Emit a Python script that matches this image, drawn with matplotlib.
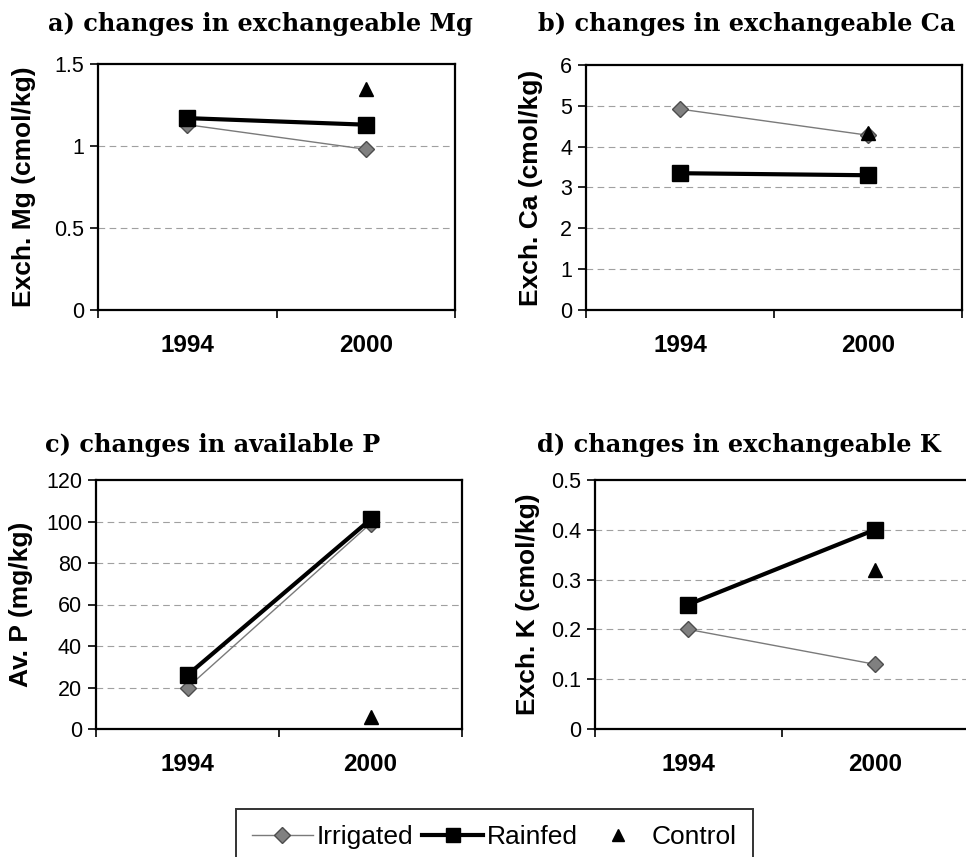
import matplotlib
matplotlib.use("Agg")
import matplotlib.pyplot as plt
from matplotlib.lines import Line2D
import numpy as np

# soil nutrient data, 1994 vs 2000
years = ["1994", "2000"]

mg_irrigated = [1.13, 0.98]
mg_rainfed = [1.17, 1.13]
mg_control = 1.35

ca_irrigated = [4.92, 4.28]
ca_rainfed = [3.35, 3.30]
ca_control = 4.33

p_irrigated = [20, 99]
p_rainfed = [26, 101]
p_control = 6

k_irrigated = [0.20, 0.13]
k_rainfed = [0.25, 0.40]
k_control = 0.32

W, H = 966, 857
fig = plt.figure(figsize=(W / 100, H / 100), dpi=100)

sans = "Liberation Sans"
serif = "DejaVu Serif"


def px_axes(left, top, right, bottom):
    return fig.add_axes([left / W, 1 - bottom / H, (right - left) / W, (bottom - top) / H])


panels = [
    # box (px), title, title pos, ylabel, ylabel x, data, ylim, yticks, ticklabels
    ((98, 64, 455, 310), "a) changes in exchangeable Mg", (48, 31),
     "Exch. Mg (cmol/kg)", 24, mg_irrigated, mg_rainfed, mg_control,
     1.5, [0, 0.5, 1, 1.5], ["0", "0.5", "1", "1.5"]),
    ((586, 65, 962, 310), "b) changes in exchangeable Ca", (538, 31),
     "Exch. Ca (cmol/kg)", 531, ca_irrigated, ca_rainfed, ca_control,
     6, [0, 1, 2, 3, 4, 5, 6], ["0", "1", "2", "3", "4", "5", "6"]),
    ((96, 480, 462, 729), "c) changes in available P", (45, 452),
     "Av. P (mg/kg)", 21, p_irrigated, p_rainfed, p_control,
     120, [0, 20, 40, 60, 80, 100, 120], ["0", "20", "40", "60", "80", "100", "120"]),
    ((595, 480, 968, 729), "d) changes in exchangeable K", (537, 452),
     "Exch. K (cmol/kg)", 528, k_irrigated, k_rainfed, k_control,
     0.5, [0, 0.1, 0.2, 0.3, 0.4, 0.5], ["0", "0.1", "0.2", "0.3", "0.4", "0.5"]),
]

x = np.arange(len(years))

for (box, title, tpos, ylab, ylx, irr, rain, ctrl, ymax, yt, ytl) in panels:
    ax = px_axes(*box)
    for y in yt[1:-1]:
        ax.axhline(y, color="#a0a0a0", lw=0.8, ls=(0, (6, 4)), zorder=0)
    ax.plot(x, irr, color="#7a7a7a", lw=1.0, marker="D", markersize=8,
            markerfacecolor="#808080", markeredgecolor="#4d4d4d", zorder=3)
    ax.plot(x, rain, color="black", lw=3.0, marker="s", markersize=12,
            markerfacecolor="black", markeredgecolor="black", zorder=4)
    ax.plot([1], [ctrl], ls="none", marker="^", markersize=10, color="black", zorder=5)

    ax.set_xlim(-0.5, 1.5)
    ax.set_ylim(0, ymax)
    ax.set_xticks(x)
    ax.set_xticklabels(years, fontfamily=sans, fontweight="bold", fontsize=17.5)
    ax.set_xticks([-0.5, 0.5, 1.5], minor=True)
    ax.tick_params(axis="x", which="major", length=0, pad=17)
    ax.tick_params(axis="x", which="minor", length=6, width=1.2, direction="out")
    ax.set_yticks(yt)
    ax.set_yticklabels(ytl, fontfamily=sans, fontsize=15.5)
    ax.tick_params(axis="y", length=6, width=1.2, direction="out", pad=4)
    for s in ax.spines.values():
        s.set_linewidth(1.6)

    fig.text(tpos[0] / W, 1 - tpos[1] / H, title, family=serif, weight="bold",
             fontsize=17.3, ha="left", va="baseline")
    cy = (box[1] + box[3]) / 2
    fig.text(ylx / W, 1 - cy / H, ylab, family=sans, weight="bold", fontsize=19,
             rotation=90, ha="center", va="center")

handles = [
    Line2D([], [], color="#7a7a7a", lw=1.0, marker="D", markersize=8,
           markerfacecolor="#808080", markeredgecolor="#4d4d4d"),
    Line2D([], [], color="black", lw=3.0, marker="s", markersize=10),
    Line2D([], [], ls="none", marker="^", markersize=9, color="black"),
]
leg = fig.legend(handles, ["Irrigated", "Rainfed", "Control"], loc="upper left",
                 bbox_to_anchor=(236 / W, 1 - 809 / H), borderaxespad=0, ncol=3,
                 frameon=True, fancybox=False, edgecolor="black", handlelength=2.3,
                 handletextpad=0.15, columnspacing=0.35, borderpad=0.6,
                 prop={"family": sans, "size": 19})
leg.get_frame().set_linewidth(1.4)

fig.savefig("out.png", dpi=100, facecolor="white")
